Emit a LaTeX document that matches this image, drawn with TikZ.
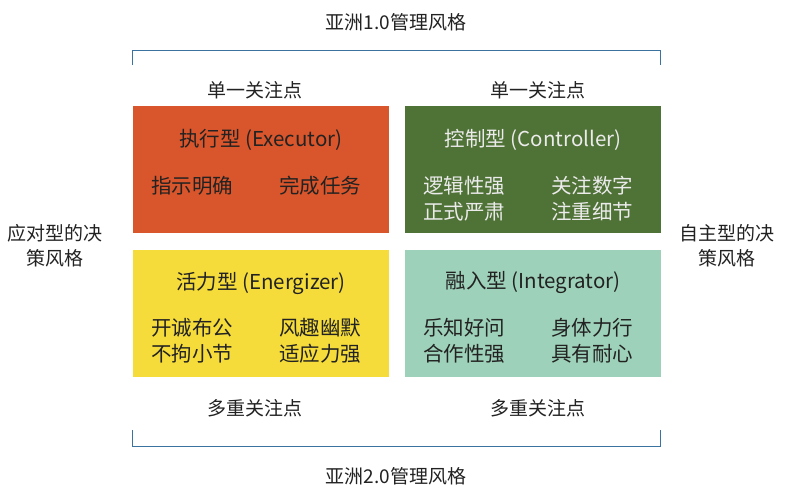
\documentclass[tikz,border=0pt]{standalone}
\usepackage{fontspec}
\setmainfont{Noto Sans CJK SC}
\definecolor{cOrange}{HTML}{D9552B}
\definecolor{cGreen}{HTML}{4F7236}
\definecolor{cYellow}{HTML}{F5DC3B}
\definecolor{cTeal}{HTML}{9ED1B9}
\definecolor{cBlue}{HTML}{3A72A0}
\definecolor{cText}{HTML}{222222}
\tikzset{
  quad/.style={draw=none, minimum width=256pt, minimum height=127pt, inner sep=0pt},
  lbl/.style={font=\fontsize{19}{24}\selectfont, text=cText, inner sep=0pt, anchor=center},
  blbl/.style={lbl, font=\fontsize{20.5}{24}\selectfont},
  bracket/.style={draw=cBlue, line width=1pt},
}
\begin{document}
\begin{tikzpicture}[x=1pt,y=-1pt]
\useasboundingbox (0,0) rectangle (789,488);
% boxes
\node[quad, fill=cOrange] (exe) at (261,169.5) {};
\node[quad, fill=cGreen] (con) at (533,169.5) {};
\node[quad, fill=cYellow] (ene) at (261,313.5) {};
\node[quad, fill=cTeal] (int) at (533,313.5) {};
% box texts
\node[blbl] (t1) at (261,140) {执行型 (Executor)};
\node[blbl] (a1) at (192,186) {指示明确};
\node[blbl] (b1) at (320,186) {完成任务};
\node[blbl, text=white!92!black] (t2) at (533,140) {控制型 (Controller)};
\node[blbl, text=white!92!black] (a2) at (464,186) {逻辑性强};
\node[blbl, text=white!92!black] (b2) at (592,186) {关注数字};
\node[blbl, text=white!92!black] (a2b) at (464,212) {正式严肃};
\node[blbl, text=white!92!black] (b2b) at (592,212) {注重细节};
\node[blbl] (t3) at (261,283) {活力型 (Energizer)};
\node[blbl] (a3) at (192,328) {开诚布公};
\node[blbl] (b3) at (320,328) {风趣幽默};
\node[blbl] (a3b) at (192,354) {不拘小节};
\node[blbl] (b3b) at (320,354) {适应力强};
\node[blbl] (t4) at (533,283) {融入型 (Integrator)};
\node[blbl] (a4) at (464,328) {乐知好问};
\node[blbl] (b4) at (592,328) {身体力行};
\node[blbl] (a4b) at (464,354) {合作性强};
\node[blbl] (b4b) at (592,354) {具有耐心};
% outer labels
\node[lbl] (top) at (396,22) {亚洲1.0管理风格};
\node[lbl] (bot) at (396,476) {亚洲2.0管理风格};
\node[lbl] (s1) at (255,90) {单一关注点};
\node[lbl] (s2) at (538,90) {单一关注点};
\node[lbl] (m1) at (255,408) {多重关注点};
\node[lbl] (m2) at (538,408) {多重关注点};
\node[lbl, align=center, font=\fontsize{19}{25}\selectfont] (left) at (55,246) {应对型的决\\策风格};
\node[lbl, align=center, font=\fontsize{19}{25}\selectfont] (right) at (727,246) {自主型的决\\策风格};
% brackets
\coordinate (tl) at (132,65); \coordinate (tr) at (660,65);
\coordinate (bl) at (132,430); \coordinate (br) at (660,430);
\draw[bracket] (tl) -- (132,50) -- (660,50) -- (tr);
\draw[bracket] (bl) -- (132,446) -- (660,446) -- (br);
\end{tikzpicture}
\end{document}
